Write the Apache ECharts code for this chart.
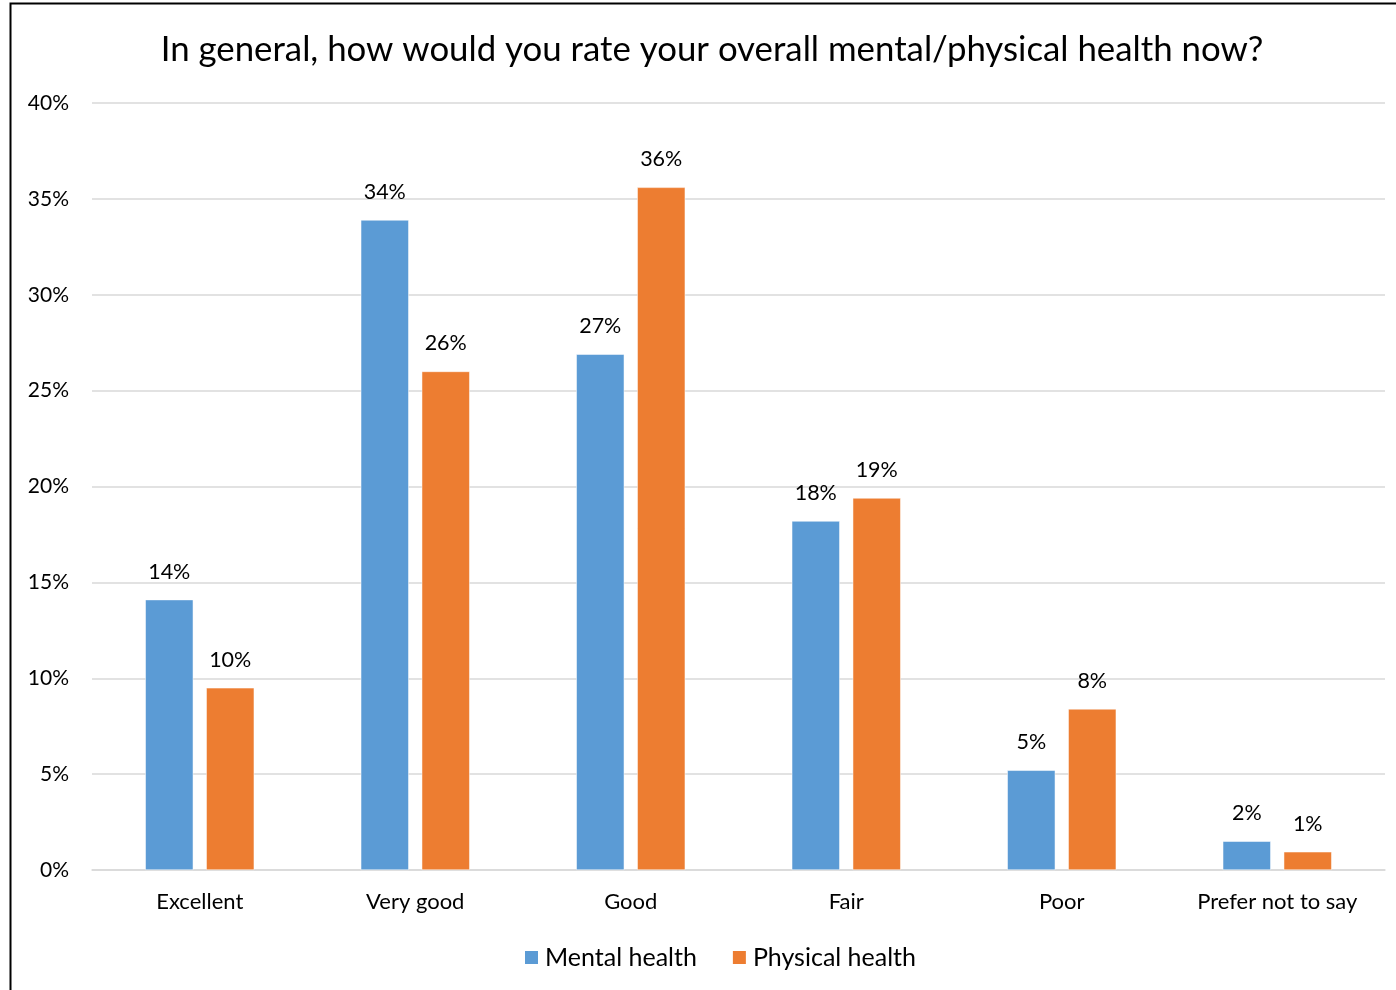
<!DOCTYPE html>
<html>
<head>
<meta charset="utf-8">
<script src="https://cdn.jsdelivr.net/npm/echarts@6/dist/echarts.min.js"></script>
<style>
  html, body { margin: 0; padding: 0; background: #fff; }
  #chart { width: 1396px; height: 990px; }
</style>
</head>
<body>
<div id="chart"></div>
<script>
// Survey responses: share of respondents per self-rating
const categories = ['Excellent', 'Very good', 'Good', 'Fair', 'Poor', 'Prefer not to say'];
const mentalHealth = [14.1, 33.9, 26.9, 18.2, 5.2, 1.5];
const physicalHealth = [9.5, 26.0, 35.6, 19.4, 8.4, 0.95];
const yTicks = [0, 5, 10, 15, 20, 25, 30, 35, 40];

const FONT = 'Lato, "Open Sans", sans-serif';
const chart = echarts.init(document.getElementById('chart'));

const pctLabel = {
  show: true,
  position: 'top',
  distance: 17,
  color: '#000',
  fontFamily: FONT,
  fontSize: 21.5,
  formatter: p => Math.round(p.value) + '%'
};

chart.setOption({
  backgroundColor: '#fff',
  animation: false,
  textStyle: { fontFamily: FONT },
  title: {
    text: 'In general, how would you rate your overall mental/physical health now?',
    left: 707,
    top: 27,
    textAlign: 'center',
    textStyle: { fontFamily: FONT, fontSize: 34.8, fontWeight: 'normal', color: '#000' }
  },
  legend: {
    bottom: 15,
    left: 518,
    itemWidth: 15,
    itemHeight: 15,
    itemGap: 34,
    icon: 'rect',
    textStyle: { fontFamily: FONT, fontSize: 25, color: '#000', padding: [0, 0, 0, 1] },
    data: ['Mental health', 'Physical health']
  },
  grid: { left: 92, right: 11, top: 103, bottom: 120, containLabel: false },
  xAxis: {
    type: 'category',
    data: categories,
    axisLine: { lineStyle: { color: '#D9D9D9', width: 1.5 } },
    axisTick: { show: false },
    axisLabel: { color: '#000', fontSize: 22, fontFamily: FONT, margin: 21, interval: 0 }
  },
  yAxis: {
    type: 'value',
    min: yTicks[0],
    max: yTicks[yTicks.length - 1],
    interval: 5,
    axisLine: { show: false },
    axisTick: { show: false },
    splitLine: { lineStyle: { color: '#D9D9D9', width: 1.5 } },
    axisLabel: { color: '#000', fontSize: 21, fontFamily: FONT, margin: 23, formatter: v => v + '%' }
  },
  series: [
    {
      name: 'Mental health',
      type: 'bar',
      data: mentalHealth,
      barWidth: 48,
      barGap: '27%',
      itemStyle: { color: '#5B9BD5', borderColor: '#fff', borderWidth: 0.5 },
      label: pctLabel
    },
    {
      name: 'Physical health',
      type: 'bar',
      data: physicalHealth,
      barWidth: 48,
      itemStyle: { color: '#ED7D31', borderColor: '#fff', borderWidth: 0.5 },
      label: pctLabel
    }
  ],
  graphic: [
    {
      type: 'rect',
      shape: { x: 10.5, y: 3.5, width: 1500, height: 1100 },
      style: { fill: 'none', stroke: '#000', lineWidth: 2 },
      silent: true,
      z: 100
    }
  ]
});
</script>
</body>
</html>
